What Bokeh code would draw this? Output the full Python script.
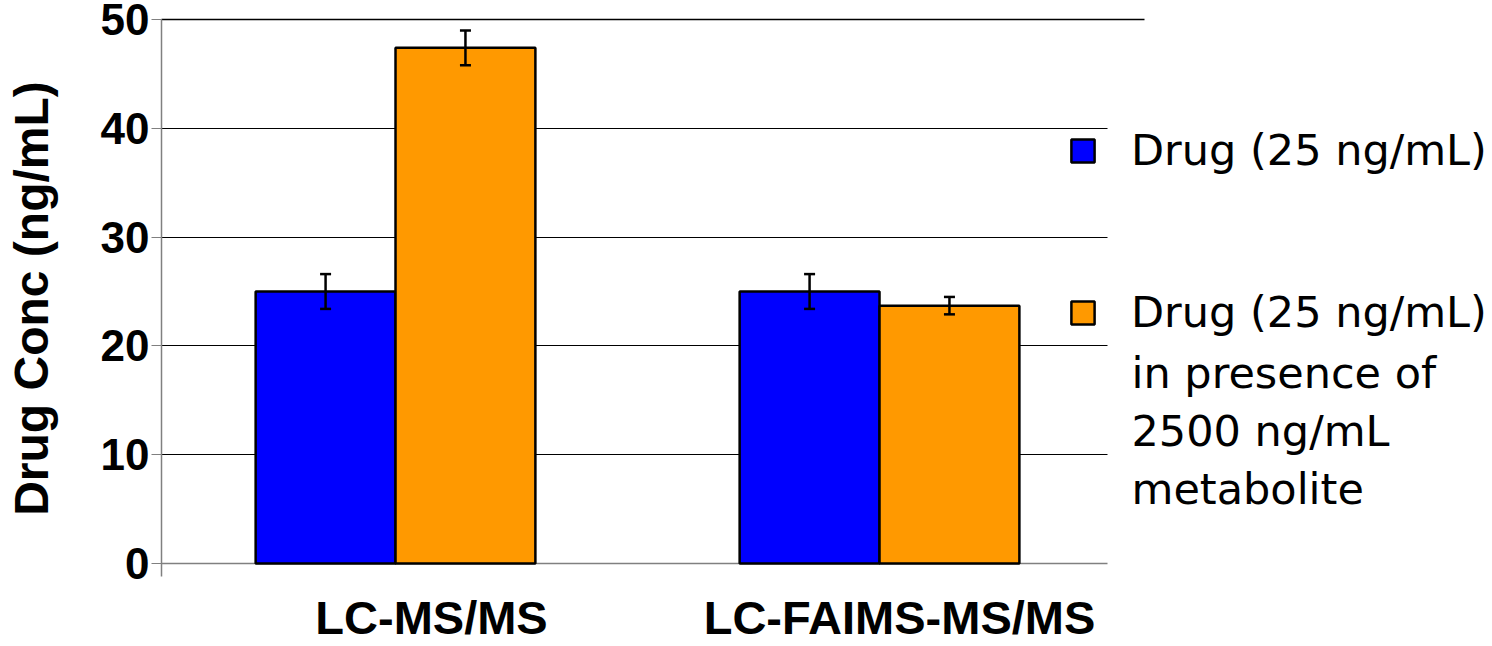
import math
from bokeh.plotting import figure
from bokeh.models import (ColumnDataSource, Whisker, TeeHead, Legend, LegendItem,
                          FixedTicker, Range1d, Grid, Label, LinearAxis)
from bokeh.core.properties import value
from bokeh.embed import file_html
from bokeh.resources import INLINE

# ---- data ----
categories = ["LC-MS/MS", "LC-FAIMS-MS/MS"]
series_names = ["Drug (25 ng/mL)", "Drug (25 ng/mL)"]
series2_extra_lines = ["in presence of", "2500 ng/mL", "metabolite"]
drug = [25.0, 25.0]
drug_err = [1.6, 1.6]
drug_met = [47.4, 23.7]
drug_met_err = [1.6, 0.8]
y_ticks = [0, 10, 20, 30, 40, 50]
y_title = "Drug Conc (ng/mL)"

# ---- layout params ----
W, H = 1490, 644
PX_X = 484.0      # pixels per category
PX_Y = 10.88      # pixels per unit of concentration
BAR_W = 0.289
AXIS_X = 0.0165                      # where the value axis stands
X0 = AXIS_X - 161 / PX_X             # frame spans the whole canvas
X1 = X0 + W / PX_X
GRID_END = 1.971
TOP_LINE_END = 2.0475
Y1 = 50 + 19 / PX_Y
Y0 = Y1 - H / PX_Y
CAT_LABEL_SHIFT = [36, 20]           # horizontal nudges of the category labels (px)
centers = [i + 0.5 for i in range(len(categories))]

def src(vals, errs, shift):
    return ColumnDataSource(dict(
        x=[c + shift for c in centers],
        top=vals,
        upper=[v + e for v, e in zip(vals, errs)],
        lower=[v - e for v, e in zip(vals, errs)],
    ))

s_blue = src(drug, drug_err, -BAR_W / 2)
s_orange = src(drug_met, drug_met_err, BAR_W / 2)

p = figure(width=W, height=H, output_backend="svg", toolbar_location=None,
           x_range=Range1d(X0, X1), y_range=Range1d(Y0, Y1),
           x_axis_location=None, y_axis_location=None,
           min_border_left=0, min_border_right=0, min_border_top=0,
           min_border_bottom=0)
p.outline_line_color = None
p.background_fill_color = "white"
p.border_fill_color = "white"

# grid lines (limited horizontally like the original)
p.xgrid.visible = False
p.ygrid.visible = False
grid_specs = [([t for t in y_ticks if 0 < t < 50], "black", 1, GRID_END),
              ([50], "black", 1.5, TOP_LINE_END),
              ([0], "#808080", 1.5, GRID_END)]
has_cross = "cross_bounds" in Grid.properties()
for ticks, col, lw, xend in grid_specs:
    if has_cross:
        g = Grid(dimension=1, ticker=FixedTicker(ticks=ticks), grid_line_color=col,
                 grid_line_width=lw, cross_bounds=(AXIS_X, xend))
        p.add_layout(g)
    else:
        p.segment(x0=[AXIS_X] * len(ticks), x1=[xend] * len(ticks), y0=ticks, y1=ticks,
                  line_color=col, line_width=lw, level="underlay")

r_blue = p.vbar(x="x", top="top", width=BAR_W, bottom=0, source=s_blue,
                fill_color="#0000FF", line_color="black", line_width=2.5)
r_orange = p.vbar(x="x", top="top", width=BAR_W, bottom=0, source=s_orange,
                  fill_color="#FF9900", line_color="black", line_width=2.5)

for s in (s_blue, s_orange):
    w = Whisker(base="x", upper="upper", lower="lower", source=s,
                line_color="black", line_width=2.5, level="annotation",
                upper_head=TeeHead(size=11, line_width=2.5, line_color="black"),
                lower_head=TeeHead(size=11, line_width=2.5, line_color="black"))
    p.add_layout(w)

# category labels under the axis
cat_src = ColumnDataSource(dict(x=centers, y=[0] * len(centers), text=categories,
                                dx=CAT_LABEL_SHIFT))
p.text(x="x", y="y", text="text", x_offset="dx", y_offset=54, source=cat_src,
       text_align="center", text_baseline="alphabetic",
       text_font=value("Liberation Sans"), text_font_style="bold",
       text_font_size="47px", text_color="black")

# y axis standing inside the frame
yax = LinearAxis(fixed_location=AXIS_X, ticker=FixedTicker(ticks=y_ticks),
                 bounds=(-1.2, 50),
                 axis_line_color="#808080", axis_line_width=1.5,
                 major_tick_line_color="#808080", major_tick_out=10, major_tick_in=0,
                 minor_tick_line_color=None, major_label_standoff=2,
                 major_label_text_font="Liberation Sans",
                 major_label_text_font_style="bold",
                 major_label_text_font_size="44px",
                 major_label_text_color="black")
p.add_layout(yax, "left")

# y-axis title
p.add_layout(Label(x=31, y=346, x_units="screen", y_units="screen", text=y_title,
                   angle=math.pi / 2, text_align="center", text_baseline="middle",
                   text_font="Liberation Sans", text_font_style="bold",
                   text_font_size="48px", text_color="black"))

common = dict(orientation="vertical", glyph_width=29, glyph_height=29,
              label_standoff=34, padding=0, margin=0,
              border_line_color=None, background_fill_alpha=0,
              label_text_font="DejaVu Sans", label_text_font_size="43px",
              label_text_color="black", label_text_baseline="alphabetic")
leg1 = Legend(items=[LegendItem(label=series_names[0], renderers=[r_blue])],
              location=(1068, 469), **common)
leg2 = Legend(items=[LegendItem(label=series_names[1], renderers=[r_orange])],
              location=(1068, 307), **common)
p.add_layout(leg1)
p.add_layout(leg2)

for i, line in enumerate(series2_extra_lines):
    p.add_layout(Label(x=1131, y=272 - 58 * i, x_units="screen", y_units="screen",
                       text=line, text_font="DejaVu Sans", text_font_size="43px",
                       text_color="black", text_baseline="alphabetic",
                       text_align="left"))

open("out.html", "w").write(file_html(p, INLINE))
